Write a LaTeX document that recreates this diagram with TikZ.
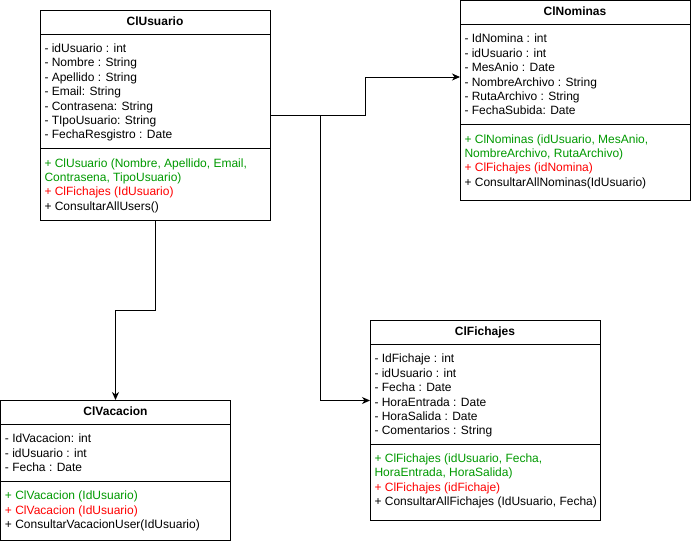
\documentclass[tikz,border=0pt]{standalone}
\usepackage{fontspec}
\setmainfont{Liberation Sans}
\usetikzlibrary{arrows.meta}
\definecolor{ctorgreen}{RGB}{0,153,0}
\definecolor{dupred}{RGB}{255,0,0}
\begin{document}
\begin{tikzpicture}[x=1pt,y=-1pt,line width=1pt,
  classbox/.style={draw,anchor=north west,inner sep=0,outer sep=0,minimum width=230pt},
  classname/.style={anchor=base,inner sep=0,font=\fontsize{12}{14.4}\selectfont\bfseries},
  members/.style={anchor=north west,align=left,inner sep=0,font=\fontsize{12}{14.4}\selectfont},
  assoc/.style={-{Stealth[length=8pt,width=7pt,inset=2.5pt]}}]
\useasboundingbox (0,0) rectangle (691,541);
\node[classbox,minimum height=210pt] (usuario) at (40,10) {};
\draw (40,34) -- (270,34);
\draw (40,148) -- (270,148);
\node[classname] (usuario-name) at (155,25) {ClUsuario};
\node[members] (usuario-attr) at (44,43.4) {- idUsuario : int\\- Nombre : String\\- Apellido : String\\- Email: String\\- Contrasena: String\\- TIpoUsuario: String\\- FechaResgistro : Date};
\node[members] (usuario-ops) at (44,158) {\textcolor{ctorgreen}{+ ClUsuario (Nombre, Apellido, Email,}\\\textcolor{ctorgreen}{Contrasena, TipoUsuario)}\\\textcolor{dupred}{+ ClFichajes (IdUsuario)}\\+ ConsultarAllUsers()};
\node[classbox,minimum height=200pt] (nominas) at (460,0.5) {};
\draw (460,24.5) -- (690,24.5);
\draw (460,124.5) -- (690,124.5);
\node[classname] (nominas-name) at (575,15.5) {ClNominas};
\node[members] (nominas-attr) at (464,33.7) {- IdNomina : int\\- idUsuario : int\\- MesAnio : Date\\- NombreArchivo : String\\- RutaArchivo : String\\- FechaSubida: Date};
\node[members] (nominas-ops) at (464,134) {\textcolor{ctorgreen}{+ ClNominas (idUsuario, MesAnio,}\\\textcolor{ctorgreen}{NombreArchivo, RutaArchivo)}\\\textcolor{dupred}{+ ClFichajes (idNomina)}\\+ ConsultarAllNominas(IdUsuario)};
\node[classbox,minimum height=200pt] (fichajes) at (370,320) {};
\draw (370,344) -- (600,344);
\draw (370,444.5) -- (600,444.5);
\node[classname] (fichajes-name) at (485,335) {ClFichajes};
\node[members] (fichajes-attr) at (374,353.7) {- IdFichaje : int\\- idUsuario : int\\- Fecha : Date\\- HoraEntrada : Date\\- HoraSalida : Date\\- Comentarios : String};
\node[members] (fichajes-ops) at (374,453) {\textcolor{ctorgreen}{+ ClFichajes (idUsuario, Fecha,}\\\textcolor{ctorgreen}{HoraEntrada, HoraSalida)}\\\textcolor{dupred}{+ ClFichajes (idFichaje)}\\+ ConsultarAllFichajes (IdUsuario, Fecha)};
\node[classbox,minimum height=140pt] (vacacion) at (0.5,400) {};
\draw (0.5,424) -- (230.5,424);
\draw (0.5,481) -- (230.5,481);
\node[classname] (vacacion-name) at (115.5,415) {ClVacacion};
\node[members] (vacacion-attr) at (4.5,433.4) {- IdVacacion: int\\- idUsuario : int\\- Fecha : Date};
\node[members] (vacacion-ops) at (4.5,490.7) {\textcolor{ctorgreen}{+ ClVacacion (IdUsuario)}\\\textcolor{dupred}{+ ClVacacion (IdUsuario)}\\+ ConsultarVacacionUser(IdUsuario)};
\coordinate (nominas-in) at (460,77);
\coordinate (fichajes-in) at (370,400.5);
\draw[assoc] (usuario.east) -- ++(95,0) |- (nominas-in);
\draw[assoc] (usuario.east) -- ++(50,0) |- (fichajes-in);
\draw[assoc] (usuario.south) -- ++(0,90) -| (vacacion.north);
\end{tikzpicture}
\end{document}
